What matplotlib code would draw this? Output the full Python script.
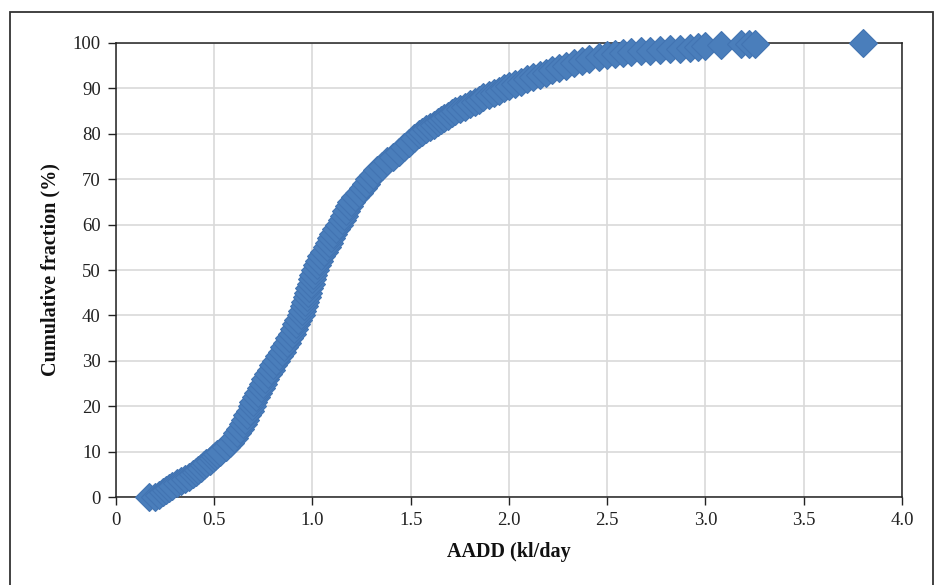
import matplotlib
matplotlib.use("Agg")
import matplotlib.pyplot as plt
from matplotlib.patches import Rectangle

# Cumulative fraction (%) and AADD (kl/day)
cum_pct = [0, 0, 0.5, 1, 1.5, 2, 2.5, 3, 3.5, 4, 4.5, 5, 5.5, 6, 6.5, 7, 7.5, 8, 8.5, 9, 9.5,
           10, 11, 12, 13, 14, 15, 16, 17, 18, 19, 20, 21, 22, 23, 24, 25, 26, 27, 28, 29,
           30, 31, 32, 33, 34, 35, 36, 37, 38, 39, 40, 41, 42, 43, 44, 45, 46, 47, 48, 49,
           50, 51, 52, 53, 54, 55, 56, 57, 58, 59, 60, 61, 62, 63, 64, 65, 66, 67, 68, 69,
           70, 71, 72, 73, 74, 75, 76, 77, 78, 79,
           80, 80.5, 81, 81.5, 82, 82.5, 83, 83.5, 84, 84.5, 85, 85.5, 86, 86.5, 87, 87.5,
           88, 88.5, 89, 89.5, 90, 90.5, 91, 91.5, 92, 92.5, 93, 93.5, 94, 94.5, 95, 95.5,
           96, 96.5, 97, 97.25, 97.5, 97.75, 98, 98.15, 98.3, 98.45, 98.6, 98.75, 98.9,
           99.1, 99.3, 99.6, 99.7, 99.8, 99.85, 100]
aadd = [0.17, 0.20, 0.22, 0.24, 0.255, 0.27, 0.285, 0.31, 0.33, 0.35, 0.37, 0.39, 0.405,
        0.42, 0.435, 0.45, 0.46, 0.48, 0.495, 0.505, 0.515,
        0.53, 0.56, 0.58, 0.60, 0.615, 0.63, 0.645, 0.655, 0.665, 0.68, 0.69, 0.70, 0.715,
        0.725, 0.74, 0.75, 0.76, 0.775, 0.79, 0.80,
        0.817, 0.83, 0.845, 0.855, 0.87, 0.883, 0.895, 0.905, 0.915, 0.928, 0.94, 0.947,
        0.955, 0.962, 0.97, 0.978, 0.985, 0.992, 0.998, 1.005,
        1.015, 1.025, 1.035, 1.045, 1.06, 1.072, 1.085, 1.095, 1.107, 1.12, 1.135, 1.148,
        1.16, 1.172, 1.185, 1.197, 1.215, 1.235, 1.255, 1.275,
        1.29, 1.31, 1.33, 1.355, 1.38, 1.41, 1.44, 1.465, 1.49, 1.515,
        1.54, 1.56, 1.58, 1.60, 1.62, 1.64, 1.655, 1.67, 1.69, 1.71, 1.725, 1.75, 1.775,
        1.80, 1.825, 1.85, 1.87, 1.90, 1.925, 1.95, 1.975, 2.0, 2.03, 2.06, 2.09, 2.125,
        2.16, 2.19, 2.22, 2.255, 2.29, 2.33, 2.37, 2.41, 2.46, 2.50, 2.54, 2.58, 2.62,
        2.67, 2.72, 2.77, 2.82, 2.87, 2.92, 2.96, 3.0, 3.08, 3.18, 3.22, 3.25, 3.80]

x_ticks = [0, 0.5, 1.0, 1.5, 2.0, 2.5, 3.0, 3.5, 4.0]
x_tick_labels = ["0", "0.5", "1.0", "1.5", "2.0", "2.5", "3.0", "3.5", "4.0"]
y_ticks = [0, 10, 20, 30, 40, 50, 60, 70, 80, 90, 100]

plt.rcParams['font.family'] = ['Liberation Serif', 'DejaVu Serif']

fig = plt.figure(figsize=(9.35, 5.85), dpi=100)
ax = fig.add_axes([0.124, 0.1504, 0.8406, 0.7761])

ax.plot(aadd, cum_pct, linestyle='none', marker='D', markersize=14.5,
        markerfacecolor='#4a7ebb', markeredgecolor='#4274b2', markeredgewidth=0.8,
        clip_on=False, zorder=3)

ax.set_xlim(0, 4.0)
ax.set_ylim(0, 100)
ax.set_xticks(x_ticks)
ax.set_xticklabels(x_tick_labels)
ax.set_yticks(y_ticks)
ax.grid(True, color='#d9d9d9', linewidth=1.2, zorder=0)
ax.set_axisbelow(True)
ax.tick_params(axis='both', direction='out', length=6, width=1, color='#222222',
               labelsize=13.5, labelcolor='#222222', pad=5)
for s in ax.spines.values():
    s.set_color('#222222')
    s.set_linewidth(1.1)

ax.set_xlabel('AADD (kl/day', fontsize=14.5, fontweight='bold', color='#111111')
ax.set_ylabel('Cumulative fraction (%)', fontsize=14.5, fontweight='bold', color='#111111')
ax.xaxis.set_label_coords(0.5, -0.098)
ax.yaxis.set_label_coords(-0.070, 0.5)

# outer frame
rect = Rectangle((10 / 935, -0.05), (932.5 - 10) / 935, 1.05 - 12 / 585,
                 transform=fig.transFigure, fill=False, edgecolor='#333333',
                 linewidth=1.3, clip_on=False)
fig.patches.append(rect)

fig.savefig('out.png', dpi=100)
